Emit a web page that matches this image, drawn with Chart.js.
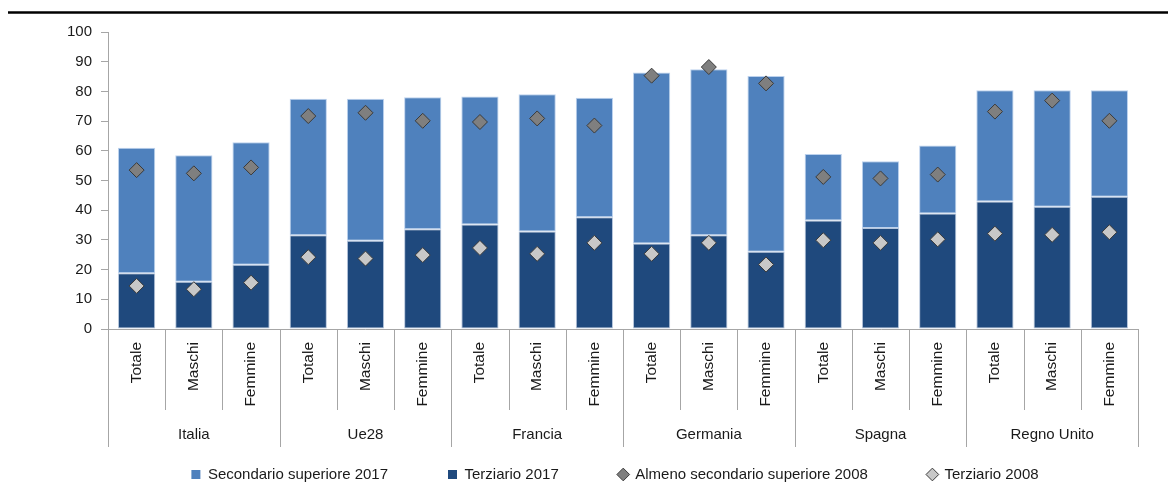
<!DOCTYPE html>
<html><head><meta charset="utf-8">
<script src="https://cdn.jsdelivr.net/npm/chart.js@4"></script>
<style>html,body{margin:0;padding:0;background:#fff;}</style>
</head><body>
<canvas id="c" width="1168" height="496"></canvas>
<script>
const groups = ['Italia', 'Ue28', 'Francia', 'Germania', 'Spagna', 'Regno Unito'];
const subgroups = ['Totale', 'Maschi', 'Femmine'];
const categories = ['Totale','Maschi','Femmine','Totale','Maschi','Femmine','Totale','Maschi','Femmine','Totale','Maschi','Femmine','Totale','Maschi','Femmine','Totale','Maschi','Femmine'];
const terziario2017 = [18.8,15.9,21.6, 31.6,29.7,33.6, 35.2,32.8,37.6, 28.8,31.6,26.0, 36.5,34.0,38.9, 42.9,41.2,44.5];
const secondario2017 = [42.2,42.6,41.3, 45.9,47.8,44.4, 43.1,46.2,40.3, 57.6,55.9,59.2, 22.4,22.5,22.9, 37.5,39.2,35.9];
const almeno2008 = [53.5,52.4,54.4, 71.7,72.8,70.1, 69.7,70.9,68.5, 85.3,88.2,82.7, 51.2,50.7,52.0, 73.2,76.9,70.1];
const terziario2008 = [14.5,13.4,15.6, 24.2,23.7,24.9, 27.3,25.3,29.0, 25.3,29.0,21.7, 29.9,29.0,30.2, 32.1,31.7,32.6];
const yTicks = [0,10,20,30,40,50,60,70,80,90,100];

const FONT = "'Liberation Sans', Arial, sans-serif";
const GRAY = '#A6A6A6';
const TXT = '#1A1A1A';

const framePlugin = {
  id: 'frame',
  afterLayout(chart) {
    chart.legend.left += 46;
    chart.legend.right += 46;
  },
  afterDraw(chart) {
    const ctx = chart.ctx;
    const xs = chart.scales.x;
    const area = chart.chartArea;
    ctx.save();
    ctx.strokeStyle = '#000';
    ctx.lineWidth = 2.5;
    ctx.beginPath(); ctx.moveTo(8, 12.5); ctx.lineTo(1168, 12.5); ctx.stroke();
    const half = (xs.getPixelForValue(1) - xs.getPixelForValue(0)) / 2;
    ctx.strokeStyle = GRAY; ctx.lineWidth = 1;
    for (let k = 0; k <= categories.length; k++) {
      const x = Math.round((k < categories.length ? xs.getPixelForValue(k) - half : xs.getPixelForValue(k - 1) + half)) + 0.5;
      const yEnd = (k % subgroups.length === 0) ? area.bottom + 118 : area.bottom + 81;
      ctx.beginPath(); ctx.moveTo(x, area.bottom); ctx.lineTo(x, yEnd); ctx.stroke();
    }
    ctx.fillStyle = TXT;
    ctx.font = '15px ' + FONT;
    ctx.textAlign = 'center'; ctx.textBaseline = 'middle';
    groups.forEach((g, i) => {
      const x = xs.getPixelForValue(i * subgroups.length + 1);
      ctx.fillText(g, x, area.bottom + 106);
    });
    ctx.restore();
  }
};

new Chart(document.getElementById('c'), {
  type: 'bar',
  data: {
    labels: categories,
    datasets: [
      { label: 'Terziario 2017', data: terziario2017, backgroundColor: '#1F497D', borderColor: 'rgba(120,150,190,0.55)', borderWidth: 1, borderSkipped: false,
        pointStyle: 'rect', stack: 'bars', order: 2, barPercentage: 0.65, categoryPercentage: 1.0 },
      { label: 'Secondario superiore 2017', data: secondario2017, backgroundColor: '#4F81BD', borderColor: 'rgba(170,198,232,0.8)', borderWidth: 1, borderSkipped: false,
        pointStyle: 'rect', stack: 'bars', order: 2, barPercentage: 0.65, categoryPercentage: 1.0 },
      { type: 'line', label: 'Almeno secondario superiore 2008', data: almeno2008, showLine: false, order: 1, stack: 'p1',
        pointStyle: 'rectRot', pointRadius: 7.5, pointHoverRadius: 7.5, backgroundColor: '#7F7F7F', borderColor: '#3A3A3A', borderWidth: 1 },
      { type: 'line', label: 'Terziario 2008', data: terziario2008, showLine: false, order: 0, stack: 'p2',
        pointStyle: 'rectRot', pointRadius: 7.5, pointHoverRadius: 7.5, backgroundColor: '#C8C8C8', borderColor: '#3A3A3A', borderWidth: 1 }
    ]
  },
  options: {
    responsive: false,
    animation: false,
    devicePixelRatio: 1,
    layout: { padding: { left: 0, right: 30, top: 32, bottom: 4 } },
    plugins: {
      tooltip: { enabled: false },
      legend: {
        position: 'bottom',
        labels: {
          usePointStyle: true, boxWidth: 9, boxHeight: 9, padding: 60,
          color: TXT, font: { family: FONT, size: 15 },
          generateLabels(chart) {
            const items = Chart.defaults.plugins.legend.labels.generateLabels(chart);
            items.forEach(it => { it.lineWidth = it.datasetIndex < 2 ? 0 : 1; });
            return items;
          },
          sort: (a, b) => {
            const ord = [1, 0, 2, 3];
            return ord.indexOf(a.datasetIndex) - ord.indexOf(b.datasetIndex);
          }
        }
      }
    },
    scales: {
      x: {
        stacked: true,
        grid: { display: false },
        border: { display: true, color: GRAY },
        ticks: { minRotation: 90, maxRotation: 90, autoSkip: false, padding: 5, color: TXT, font: { family: FONT, size: 15.5 } },
        afterFit(s) { s.height = 78; }
      },
      y: {
        stacked: true,
        min: 0, max: 100,
        afterBuildTicks(s) { s.ticks = yTicks.map(v => ({ value: v })); },
        grid: { drawOnChartArea: false, drawTicks: true, tickLength: 7, color: GRAY },
        border: { display: true, color: GRAY },
        ticks: { padding: 9, color: TXT, font: { family: FONT, size: 15 } },
        afterFit(s) { s.width = 108; }
      }
    }
  },
  plugins: [framePlugin]
});
</script>
</body></html>
